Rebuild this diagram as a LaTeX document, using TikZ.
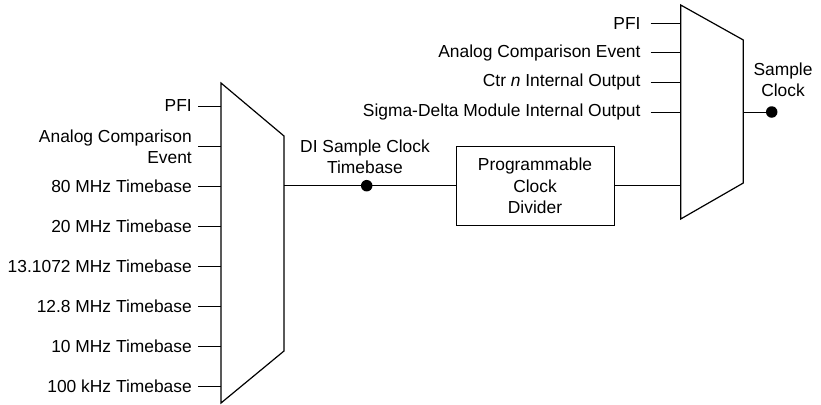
\documentclass[tikz,border=0pt]{standalone}
\usepackage{fontspec}
\setmainfont{Liberation Sans}
\begin{document}
\begin{tikzpicture}[x=1pt,y=-1pt,
  every node/.style={font=\fontsize{17.4}{21.3}\selectfont},
  wire/.style={line width=1pt},
  mux/.style={line width=1.2pt, line join=miter, fill=white},
  lblL/.style={inner ysep=0pt, inner xsep=6pt, anchor=east, align=right},
  lblR/.style={inner ysep=0pt, inner xsep=10pt, anchor=east, align=right},
  txt/.style={inner sep=0pt, align=center},
  dotn/.style={circle, fill=black, inner sep=0pt, minimum size=11.5pt},
  divbox/.style={draw, line width=1pt, minimum width=158pt, minimum height=79.3pt, align=center, inner sep=0pt}]
\useasboundingbox (0,0) rectangle (821,404);

% left multiplexer
\draw[mux] (221,83) coordinate (Ltl) -- (284,136) coordinate (Ltr) -- (284,351) coordinate (Lbr) -- (221,403) coordinate (Lbl) -- cycle;
% right multiplexer
\draw[mux] (680.7,5) coordinate (Rtl) -- (743.3,40) coordinate (Rtr) -- (743.3,183) coordinate (Rbr) -- (680.7,219) coordinate (Rbl) -- cycle;

% left inputs
\foreach \n/\y/\t in {a/106/PFI, b/146.5/{Analog Comparison\\Event}, c/186/80 MHz Timebase, d/226/20 MHz Timebase, e/266/13.1072 MHz Timebase, f/306/12.8 MHz Timebase, g/346/10 MHz Timebase, h/386/100 kHz Timebase}{
  \node[lblL] (L\n) at (198,\y) {\t};
  \coordinate (Li\n) at (221,\y);
  \draw[wire] (L\n.east) -- (Li\n);
}

% right inputs
\foreach \n/\y/\t in {a/24/PFI, b/53/Analog Comparison Event, c/82.5/{Ctr \textit{n} Internal Output}, d/112/Sigma-Delta Module Internal Output}{
  \node[lblR] (R\n) at (650.7,\y) {\t};
  \coordinate (Ri\n) at (680.7,\y);
  \draw[wire] (R\n.east) -- (Ri\n);
}

% divider box
\node[divbox] (div) at (535,185.8) {Programmable\\Clock\\Divider};

% left mux output to divider
\coordinate (Lout) at (284,185.7);
\draw[wire] (Lout) -- (Lout -| div.west);
\node[dotn] (d1) at (366.7,185.7) {};
\node[txt] (tb) at (365,156.5) {DI Sample Clock\\Timebase};

% divider to right mux
\coordinate (Rin) at (680.7,185.5);
\draw[wire] (Rin -| div.east) -- (Rin);

% right mux output
\coordinate (Rout) at (743.3,112);
\node[dotn] (d2) at (771.7,112) {};
\draw[wire] (Rout) -- (d2.center);
\node[txt] (sc) at (783,80) {Sample\\Clock};
\end{tikzpicture}
\end{document}
